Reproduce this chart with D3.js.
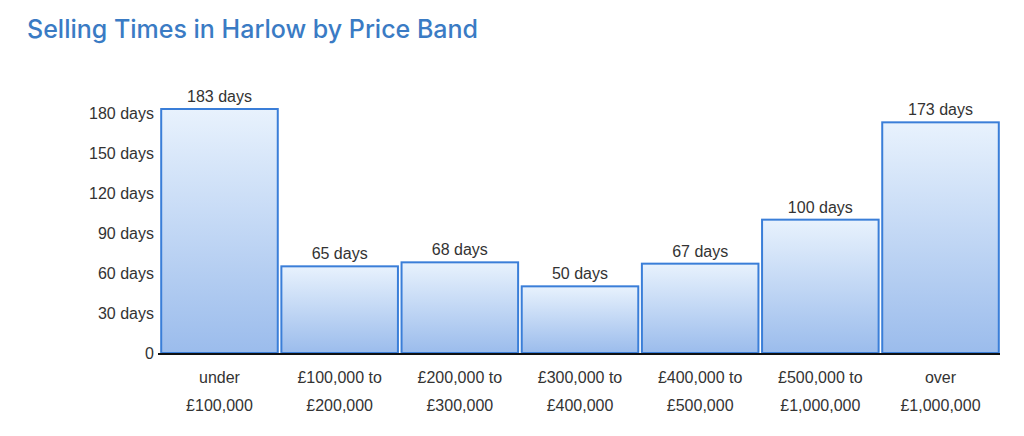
<!DOCTYPE html>
<html><head><meta charset="utf-8">
<script src="https://cdn.jsdelivr.net/npm/d3@7"></script>
<style>body{margin:0;background:#fff}</style>
</head><body>
<svg id="chart" width="1024" height="436"></svg>
<script>
const categories = [['under','£100,000'],['£100,000 to','£200,000'],['£200,000 to','£300,000'],['£300,000 to','£400,000'],['£400,000 to','£500,000'],['£500,000 to','£1,000,000'],['over','£1,000,000']];
const days = [183, 65, 68, 50, 67, 100, 173];
const yTicks = [0, 30, 60, 90, 120, 150, 180];

const svg = d3.select('#chart');
const plotLeft = 160, plotRight = 1000, plotTop = 113, plotBottom = 353;

svg.append('text').attr('x', 27).attr('y', 38)
  .attr('font-family', 'Inter, "Open Sans", sans-serif').attr('font-size', 25).attr('font-weight', 500)
  .attr('fill', '#3a7bc4').text('Selling Times in Harlow by Price Band');

const grad = svg.append('defs').append('linearGradient').attr('id', 'g')
  .attr('x1', 0).attr('y1', 0).attr('x2', 0).attr('y2', 1);
grad.append('stop').attr('offset', 0).attr('stop-color', '#e8f2fd');
grad.append('stop').attr('offset', 1).attr('stop-color', '#9bbcec');

const x = d3.scaleBand().domain(d3.range(days.length)).range([plotLeft, plotRight]).paddingInner(0.03).paddingOuter(0.01);
const y = d3.scaleLinear().domain([0, 180]).range([plotBottom, plotTop]);

const font = 'Arial, "Liberation Sans", sans-serif';

svg.selectAll('rect.bar').data(days).join('rect').attr('class', 'bar')
  .attr('x', (d, i) => x(i)).attr('y', d => y(d))
  .attr('width', x.bandwidth()).attr('height', d => plotBottom - y(d))
  .attr('fill', 'url(#g)').attr('stroke', '#3a7ed8').attr('stroke-width', 2);

svg.selectAll('text.val').data(days).join('text').attr('class', 'val')
  .attr('x', (d, i) => x(i) + x.bandwidth() / 2).attr('y', d => y(d) - 7)
  .attr('text-anchor', 'middle').attr('font-family', font).attr('font-size', 16).attr('fill', '#333')
  .text(d => d + ' days');

const yAxis = svg.append('g').attr('transform', `translate(${plotLeft},0)`)
  .call(d3.axisLeft(y).tickValues(yTicks).tickSize(0).tickPadding(6).tickFormat(d => d === 0 ? '0' : d + ' days'));
yAxis.select('.domain').remove();
yAxis.selectAll('text').attr('font-family', font).attr('font-size', 16).attr('fill', '#333');

svg.append('line').attr('x1', plotLeft - 2).attr('x2', plotRight).attr('y1', plotBottom + 1).attr('y2', plotBottom + 1)
  .attr('stroke', '#111').attr('stroke-width', 2);

const labels = svg.selectAll('text.cat').data(categories).join('text').attr('class', 'cat')
  .attr('text-anchor', 'middle').attr('font-family', font).attr('font-size', 16).attr('fill', '#333');
labels.each(function (d, i) {
  const cx = x(i) + x.bandwidth() / 2;
  d3.select(this).selectAll('tspan').data(d).join('tspan')
    .attr('x', cx).attr('y', (t, j) => 383 + j * 28).text(t => t);
});
</script>
</body></html>
